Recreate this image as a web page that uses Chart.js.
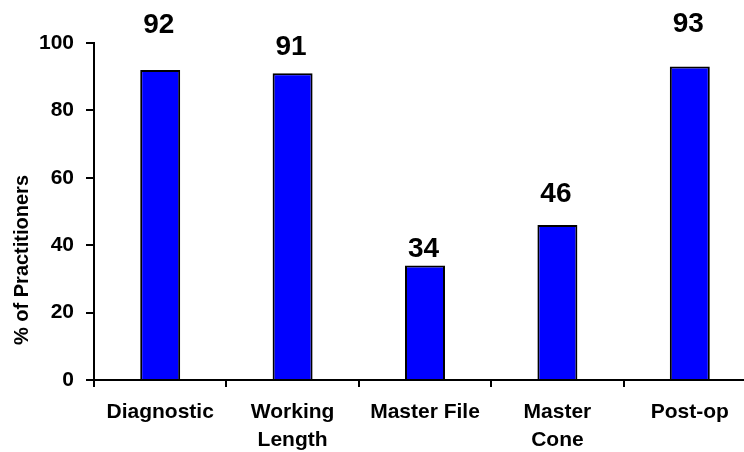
<!DOCTYPE html>
<html>
<head>
<meta charset="utf-8">
<script src="https://cdn.jsdelivr.net/npm/chart.js@4/dist/chart.umd.min.js"></script>
<style>
  html, body { margin: 0; padding: 0; overflow: hidden; background: #fff; width: 744px; height: 452px; }
  #wrap { width: 756px; height: 452px; }
</style>
</head>
<body>
<div id="wrap"><canvas id="c" width="756" height="452"></canvas></div>
<script>
// Survey: share of practitioners taking each radiograph
const categories = [['Diagnostic'], ['Working', 'Length'], ['Master File'], ['Master', 'Cone'], ['Post-op']];
const practitioners = [92, 91, 34, 46, 93];
const yTicks = [0, 20, 40, 60, 80, 100];
const yTitleText = '% of Practitioners';

const FONT = '"Liberation Sans", Arial, Helvetica, sans-serif';

// Numbers printed above each bar
const valueLabels = {
  id: 'valueLabels',
  afterDatasetsDraw(chart, args, opts) {
    const ctx = chart.ctx;
    const meta = chart.getDatasetMeta(0);
    ctx.save();
    ctx.font = 'bold ' + opts.size + 'px ' + FONT;
    ctx.fillStyle = '#000';
    ctx.textAlign = 'center';
    ctx.textBaseline = 'alphabetic';
    meta.data.forEach((bar, i) => {
      ctx.fillText(String(practitioners[i]), bar.x + opts.shiftX, bar.y - opts.gaps[i]);
    });
    ctx.restore();
  }
};

// Rotated y-axis caption
const yTitle = {
  id: 'yTitle',
  afterDraw(chart, args, opts) {
    const ctx = chart.ctx;
    ctx.save();
    ctx.translate(opts.x, opts.y);
    ctx.rotate(-Math.PI / 2);
    ctx.font = 'bold ' + opts.size + 'px ' + FONT;
    ctx.fillStyle = '#000';
    ctx.textAlign = 'center';
    ctx.textBaseline = 'alphabetic';
    ctx.fillText(yTitleText, 0, 0);
    ctx.restore();
  }
};

new Chart(document.getElementById('c'), {
  type: 'bar',
  data: {
    labels: categories,
    datasets: [{
      data: practitioners,
      backgroundColor: '#0000ff',
      borderColor: '#000',
      borderWidth: 2,
      borderSkipped: 'start',
      barPercentage: 0.302,
      categoryPercentage: 1
    }]
  },
  options: {
    responsive: false,
    devicePixelRatio: 1,
    animation: false,
    layout: { padding: { top: 43, left: 0, right: 0, bottom: 0 } },
    plugins: {
      legend: { display: false },
      tooltip: { enabled: false },
      valueLabels: { size: 28, shiftX: -1.5, gaps: [37, 18, 8, 23, 35] },
      yTitle: { x: 28, y: 260, size: 20 }
    },
    scales: {
      x: {
        z: 1,
        afterFit(scale) { scale.height = 72; },
        border: { display: true, color: '#000', width: 2 },
        grid: { display: true, drawOnChartArea: false, drawTicks: true, tickLength: 7, color: '#000', lineWidth: 2, offset: true },
        ticks: {
          color: '#000',
          padding: 11,
          maxRotation: 0,
          autoSkip: false,
          font: { family: FONT, size: 21, weight: 'bold', lineHeight: 1.33 }
        }
      },
      y: {
        z: 1,
        min: 0,
        max: 100,
        afterFit(scale) { scale.width = 94; },
        afterBuildTicks(scale) { scale.ticks = yTicks.map(v => ({ value: v })); },
        border: { display: true, color: '#000', width: 2 },
        grid: { display: true, drawOnChartArea: false, drawTicks: true, tickLength: 8, color: '#000', lineWidth: 2 },
        ticks: {
          color: '#000',
          padding: 12,
          font: { family: FONT, size: 21, weight: 'bold' }
        }
      }
    }
  },
  plugins: [valueLabels, yTitle]
});
</script>
</body>
</html>
